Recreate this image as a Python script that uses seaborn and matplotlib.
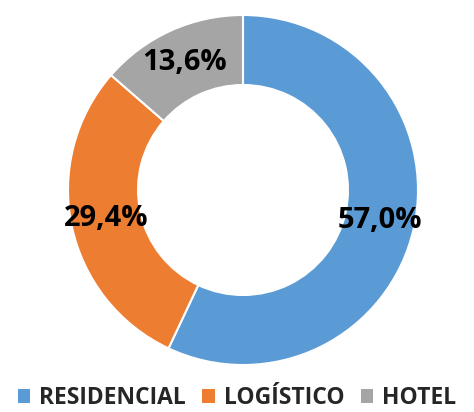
import matplotlib
matplotlib.use("Agg")
import matplotlib.pyplot as plt
import seaborn as sns
import numpy as np
from matplotlib.patches import Patch

categories = ["RESIDENCIAL", "LOGÍSTICO", "HOTEL"]
values = [57.0, 29.4, 13.6]
labels = ["57,0%", "29,4%", "13,6%"]
colors = ["#5B9BD5", "#ED7D31", "#A5A5A5"]

sns.set_style("white")
plt.rcParams['font.family'] = ['Open Sans', 'DejaVu Sans']

fig = plt.figure(figsize=(4.74, 4.12), dpi=100)
ax = fig.add_axes([68/474, (412-365)/412, 350/474, 350/412])
wedges, texts = ax.pie(values, colors=colors, startangle=90, counterclock=False,
                       radius=1.0, wedgeprops=dict(width=0.4, edgecolor="white", linewidth=1.5))
for w, lab in zip(wedges, labels):
    ang = np.deg2rad((w.theta1 + w.theta2) / 2)
    ax.text(0.8*np.cos(ang), 0.8*np.sin(ang), lab, ha="center", va="center",
            fontsize=21, fontweight="bold", color="black")
ax.set_xlim(-1, 1)
ax.set_ylim(-1, 1)
ax.set_aspect("equal")
ax.axis("off")

handles = [Patch(facecolor=c, edgecolor="none") for c in colors]
fig.legend(handles, categories, loc="center", bbox_to_anchor=(0.5, 1-398/412),
           ncol=3, frameon=False, prop=dict(size=16.5, weight="bold"),
           handlelength=0.55, handleheight=0.55, handletextpad=0.4, columnspacing=0.7,
           borderaxespad=0)
fig.savefig("out.png", dpi=100)
